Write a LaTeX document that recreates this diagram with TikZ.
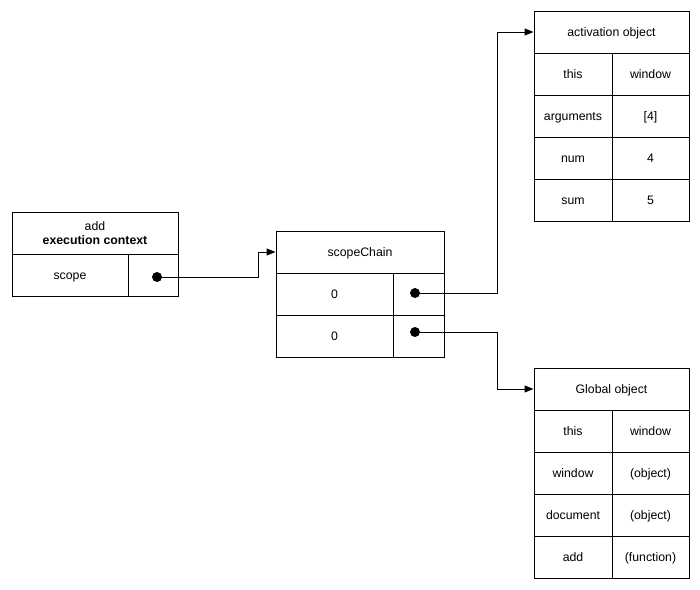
\documentclass[tikz,border=0pt]{standalone}
\usepackage{fontspec}
\setmainfont{Liberation Sans}
\usetikzlibrary{calc,arrows.meta}

\begin{document}
\begin{tikzpicture}[x=1pt,y=-1pt,line width=1pt,
    cell/.style={draw, rectangle, minimum height=42pt, inner sep=0pt, font=\fontsize{12.3}{14}\selectfont},
    field/.style={cell, text height=9.8pt, text depth=1.6pt},
    dot/.style={circle, fill, minimum size=10pt, inner sep=0pt},
    link/.style={-{Triangle[length=9pt,width=7pt]}}]
  \useasboundingbox (0,0) rectangle (700,589);

  % add execution context
  \node[cell, minimum width=166pt, align=center] (ctxhead) at (95,233) {add\\\textbf{execution context}};
  \node[field, minimum width=116pt] (ctxkey) at (70,275) {scope};
  \node[field, minimum width=50pt] (ctxval) at (153,275) {};
  \node[dot] (ctxdot) at (157,277) {};

  % scope chain
  \node[field, minimum width=168pt] (schead) at (360,252) {scopeChain};
  \foreach \i in {1,2}{
    \node[field, minimum width=117pt] (sckey\i) at (334.5,252+42*\i) {0};
    \node[field, minimum width=51pt] (scval\i) at (418.5,252+42*\i) {};
  }
  \node[dot] (scdot1) at (415,293) {};
  \node[dot] (scdot2) at (415,332) {};

  % activation object
  \node[field, minimum width=155pt] (acthead) at (611.5,32) {activation object};
  \foreach \key/\val [count=\i] in {this/window, arguments/{[4]}, num/4, sum/5}{
    \node[field, minimum width=78pt] (actkey\i) at (573,32+42*\i) {\key};
    \node[field, minimum width=77pt] (actval\i) at (650.5,32+42*\i) {\val};
  }

  % global object
  \node[field, minimum width=155pt] (globhead) at (611.5,389) {Global object};
  \foreach \key/\val [count=\i] in {this/window, window/(object), document/(object), add/(function)}{
    \node[field, minimum width=78pt] (globkey\i) at (573,389+42*\i) {\key};
    \node[field, minimum width=77pt] (globval\i) at (650.5,389+42*\i) {\val};
  }

  \draw[link] (ctxdot.center) -| ($(schead.west)+(-17,0)$) -- (schead.west);
  \draw[link] (scdot1.center) -| ($(acthead.west)+(-36,0)$) -- (acthead.west);
  \draw[link] (scdot2.center) -| ($(globhead.west)+(-36,0)$) -- (globhead.west);
\end{tikzpicture}
\end{document}
